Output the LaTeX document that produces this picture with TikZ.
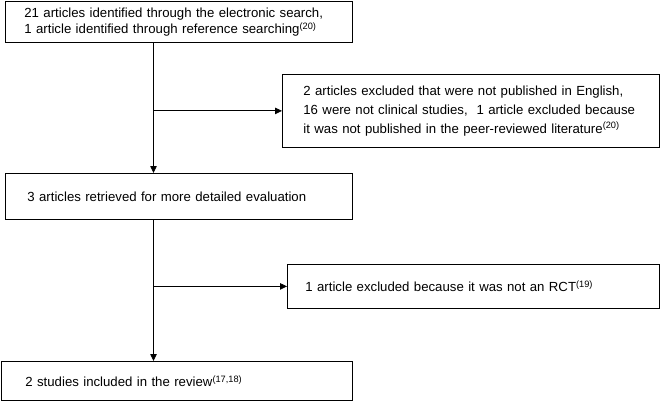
\documentclass[tikz,border=0pt]{standalone}
\usepackage{fontspec}
\setmainfont{Liberation Sans}
\usetikzlibrary{arrows.meta}
\begin{document}
\begin{tikzpicture}[x=1pt,y=-1pt,
  boxstyle/.style={draw, line width=0.8pt, anchor=north west, align=left,
    font=\fontsize{13.2}{16.5}\selectfont, inner ysep=0pt},
  arr/.style={line width=0.8pt, -{Triangle[length=7pt,width=6.5pt]}},
  ln/.style={line width=0.8pt}]
\useasboundingbox (0,0) rectangle (661,401);
\node[boxstyle, minimum width=347pt, minimum height=41pt, inner xsep=19pt, text width=309pt] (A) at (5,1)
  {21 articles identified through the electronic search,\\1 article identified through reference searching\textsuperscript{(20)}};
\node[boxstyle, minimum width=377pt, minimum height=73pt, inner xsep=21pt, text width=335pt,
  font=\fontsize{13.2}{19}\selectfont] (B) at (282,74)
  {2 articles excluded that were not published in English,\\16 were not clinical studies,\ \ 1 article excluded because\\it was not published in the peer-reviewed literature\textsuperscript{(20)}};
\node[boxstyle, minimum width=347pt, minimum height=46pt, inner xsep=22pt, text width=303pt] (C) at (5,173)
  {3 articles retrieved for more detailed evaluation};
\node[boxstyle, minimum width=372pt, minimum height=44pt, inner xsep=18pt, text width=336pt] (D) at (287,264)
  {1 article excluded because it was not an RCT\textsuperscript{(19)}};
\node[boxstyle, minimum width=351pt, minimum height=39pt, inner xsep=24pt, text width=303pt] (E) at (1,361)
  {2 studies included in the review\textsuperscript{(17,18)}};
\coordinate (vx) at (153.5,0);
\draw[arr] (vx |- A.south) -- (vx |- C.north);
\draw[arr] (vx |- B.west) -- (B.west);
\draw[arr] (vx |- C.south) -- (vx |- E.north);
\draw[arr] (vx |- D.west) -- (D.west);
\end{tikzpicture}
\end{document}
